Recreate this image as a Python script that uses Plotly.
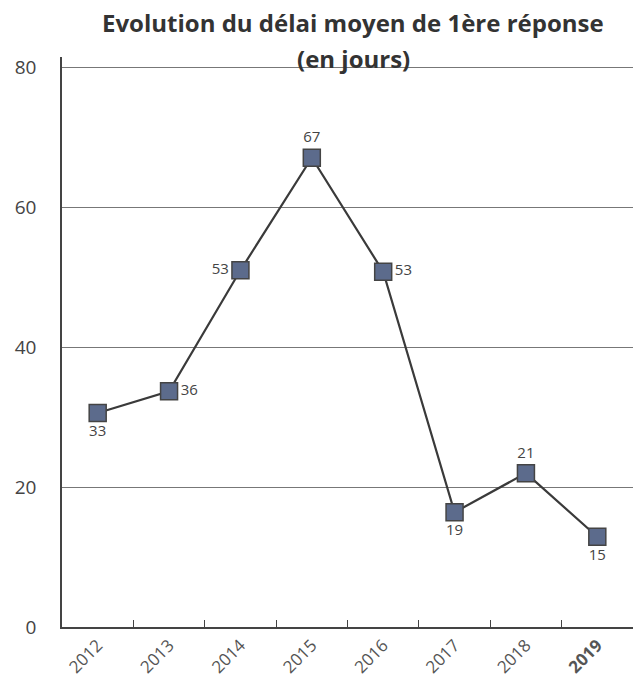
import plotly.graph_objects as go

years = ["2012", "2013", "2014", "2015", "2016", "2017", "2018", "2019"]
year_labels = ["2012", "2013", "2014", "2015", "2016", "2017", "2018", "<b>2019</b>"]
plotted = [30.6, 33.7, 51.0, 67.1, 50.8, 16.4, 22.0, 12.9]
value_labels = ["33", "36", "53", "67", "53", "19", "21", "15"]
label_pos = ["bottom center", "middle right", "middle left", "top center",
             "middle right", "bottom center", "top center", "bottom center"]
y_ticks = [0, 20, 40, 60, 80]
title_lines = ["Evolution du délai moyen de 1ère réponse", "(en jours)"]

fig = go.Figure()
fig.add_trace(go.Scatter(
    x=years, y=plotted, mode="lines+markers+text",
    text=value_labels, textposition=label_pos,
    textfont=dict(family="Open Sans", size=15, color="#444"),
    line=dict(color="#3a3a3a", width=2.2),
    marker=dict(symbol="square", size=17, color="#5c6b8c",
                line=dict(color="#444", width=1.5)),
    cliponaxis=False, showlegend=False,
))

fig.update_layout(
    width=633, height=686,
    margin=dict(l=62, r=0, t=57, b=59),
    paper_bgcolor="white", plot_bgcolor="white",
    xaxis=dict(type="category", range=[-0.5, 7.5],
               tickvals=years, ticktext=year_labels, tickangle=-45,
               tickfont=dict(family="Open Sans", size=17, color="#555"),
               showline=True, linecolor="#444", linewidth=1.5,
               ticks="inside", tickson="boundaries", ticklen=7, tickcolor="#444",
               showgrid=False),
    yaxis=dict(range=[0, 81.5], tickvals=y_ticks,
               tickfont=dict(family="Open Sans", size=19, color="#444"),
               showline=True, linecolor="#444", linewidth=1.5,
               showgrid=True, gridcolor="#777", gridwidth=1,
               zeroline=False, ticklabelstandoff=20),
)
fig.add_annotation(text="<b>" + title_lines[0] + "</b>", xref="paper", yref="paper",
                   x=0.51, y=1.0, yshift=35, xanchor="center", yanchor="middle",
                   showarrow=False, font=dict(family="Open Sans", size=24, color="#333"))
fig.add_annotation(text="<b>" + title_lines[1] + "</b>", xref="paper", yref="paper",
                   x=0.51, y=1.0, yshift=-1, xanchor="center", yanchor="middle",
                   showarrow=False, font=dict(family="Open Sans", size=24, color="#333"))

fig.write_html("out.html")
